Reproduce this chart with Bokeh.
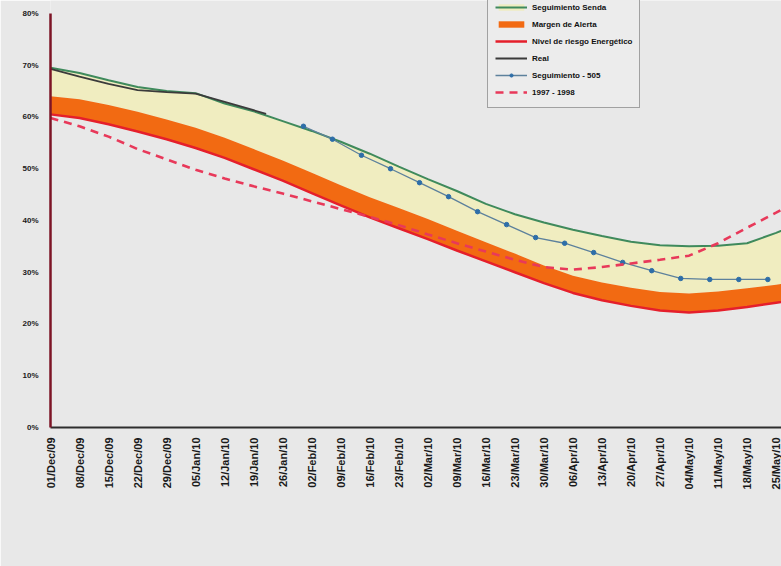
import math
from bokeh.plotting import figure
from bokeh.models import FixedTicker, Legend, LegendItem
from bokeh.embed import file_html
from bokeh.resources import INLINE

# ---- data (days since 01/Dec/09) ----
tick_days = [0, 7, 14, 21, 28, 35, 42, 49, 56, 63, 70, 77, 84, 91, 98, 105,
             112, 119, 126, 133, 140, 147, 154, 161, 168, 175, 182]
date_labels = ["01/Dec/09", "08/Dec/09", "15/Dec/09", "22/Dec/09", "29/Dec/09",
               "05/Jan/10", "12/Jan/10", "19/Jan/10", "26/Jan/10", "02/Feb/10",
               "09/Feb/10", "16/Feb/10", "23/Feb/10", "02/Mar/10", "09/Mar/10",
               "16/Mar/10", "23/Mar/10", "30/Mar/10", "06/Apr/10", "13/Apr/10",
               "20/Apr/10", "27/Apr/10", "04/May/10", "11/May/10", "18/May/10",
               "25/May/10", "01/Jun/10"]
y_ticks = [0, 10, 20, 30, 40, 50, 60, 70, 80]
y_labels = ["0%", "10%", "20%", "30%", "40%", "50%", "60%", "70%", "80%"]

# Seguimiento Senda (upper edge of pale band)
senda = [69.5, 68.5, 67.1, 65.8, 65.0, 64.6, 62.6, 61.1, 59.2, 57.3, 55.2, 52.9,
         50.4, 48.0, 45.7, 43.2, 41.2, 39.6, 38.2, 37.0, 35.9, 35.2, 35.0, 35.1,
         35.6, 37.6, 40.0]
# Margen de Alerta (upper edge of orange band)
alerta = [64.0, 63.4, 62.3, 61.0, 59.5, 57.9, 56.0, 53.8, 51.6, 49.2, 46.8, 44.5,
          42.4, 40.3, 38.0, 35.8, 33.6, 31.3, 29.3, 28.0, 27.0, 26.2, 25.9, 26.3,
          26.9, 27.6, 28.4]
# Nivel de riesgo (red line, lower edge of orange band)
riesgo = [60.5, 59.8, 58.6, 57.2, 55.7, 54.0, 52.1, 49.9, 47.7, 45.3, 42.9, 40.6,
          38.5, 36.4, 34.2, 32.1, 30.0, 27.9, 26.0, 24.6, 23.5, 22.6, 22.2, 22.6,
          23.3, 24.1, 24.9]
# 1997 - 1998
nino = [59.8, 58.2, 56.2, 53.8, 51.8, 49.8, 48.1, 46.6, 45.2, 43.7, 42.2, 40.7,
        39.1, 37.3, 35.6, 34.0, 32.4, 31.0, 30.5, 31.0, 31.7, 32.4, 33.2, 35.6,
        38.6, 41.5, 44.5]
# Real
real_days = [0, 7, 14, 21, 28, 35, 42, 49, 52]
real_vals = [69.3, 67.8, 66.4, 65.2, 64.8, 64.5, 62.9, 61.3, 60.6]
# Seguimiento - 505
seg_days = [61, 68, 75, 82, 89, 96, 103, 110, 117, 124, 131, 138, 145, 152, 159, 166, 173]
seg_vals = [58.2, 55.7, 52.6, 50.0, 47.3, 44.6, 41.7, 39.2, 36.7, 35.6, 33.8, 31.9,
            30.3, 28.8, 28.6, 28.6, 28.6]

BG = "#e8e8e8"
FONT = "Liberation Sans"

p = figure(width=781, height=566, output_backend="svg", toolbar_location=None,
           x_range=(0, 176.3), y_range=(0, 82.5),
           min_border_left=50, min_border_right=0, min_border_top=0,
           min_border_bottom=139)
p.background_fill_color = BG
p.border_fill_color = BG
p.outline_line_color = None
p.grid.visible = False

band = p.varea(x=tick_days, y1=alerta, y2=senda, fill_color="#f0edc0")
orange = p.varea(x=tick_days, y1=riesgo, y2=alerta, fill_color="#f26a12")
green = p.line(tick_days, senda, line_color="#3f8a5c", line_width=2)
red = p.line(tick_days, riesgo, line_color="#e51f2b", line_width=2.5)
real = p.line(real_days, real_vals, line_color="#3b3b3b", line_width=1.8)
seg_line = p.line(seg_days, seg_vals, line_color="#5d819c", line_width=1.3)
seg_pts = p.scatter(seg_days, seg_vals, size=4.5, fill_color="#2e6ea8",
                    line_color="#2e6ea8")
dash = p.line(tick_days, nino, line_color="#e8395a", line_width=2.6,
              line_dash="8 6")

# axes
xa = p.xaxis[0]
xa.ticker = FixedTicker(ticks=tick_days)
xa.major_label_overrides = {d: s for d, s in zip(tick_days, date_labels)}
xa.major_label_orientation = math.pi / 2
xa.major_label_text_font = FONT
xa.major_label_text_font_style = "bold"
xa.major_label_text_font_size = "11px"
xa.major_label_text_color = "#1a1a1a"
xa.major_label_standoff = 10
xa.axis_line_color = "#2e2e2e"
xa.axis_line_width = 2
xa.major_tick_line_color = None
xa.major_tick_out = 0
xa.major_tick_in = 0
xa.minor_tick_line_color = None

ya = p.yaxis[0]
ya.ticker = FixedTicker(ticks=y_ticks)
ya.major_label_overrides = {v: s for v, s in zip(y_ticks, y_labels)}
ya.bounds = (0, 80)
ya.major_label_text_font = FONT
ya.major_label_text_font_style = "bold"
ya.major_label_text_font_size = "8px"
ya.major_label_text_color = "#1a1a1a"
ya.major_label_standoff = 12
ya.axis_line_color = "#7d1426"
ya.axis_line_width = 2.5
ya.major_tick_line_color = None
ya.major_tick_out = 0
ya.major_tick_in = 0
ya.minor_tick_line_color = None

legend = Legend(items=[
    LegendItem(label="Seguimiento Senda", renderers=[band, green]),
    LegendItem(label="Margen de Alerta", renderers=[orange]),
    LegendItem(label="Nivel de riesgo Energético", renderers=[red]),
    LegendItem(label="Real", renderers=[real]),
    LegendItem(label="Seguimiento - 505", renderers=[seg_line, seg_pts]),
    LegendItem(label="1997 - 1998", renderers=[dash]),
], location=(437, 319))
legend.padding = 7
legend.spacing = 1
legend.label_height = 16
legend.glyph_height = 8
legend.glyph_width = 32
legend.label_standoff = 5
legend.label_text_font = FONT
legend.label_text_font_style = "bold"
legend.label_text_font_size = "8px"
legend.label_text_color = "#111111"
legend.background_fill_color = "#ececec"
legend.background_fill_alpha = 1.0
legend.border_line_color = "#555555"
legend.border_line_width = 1
p.add_layout(legend, "center")

open("out.html", "w").write(file_html(p, INLINE))
